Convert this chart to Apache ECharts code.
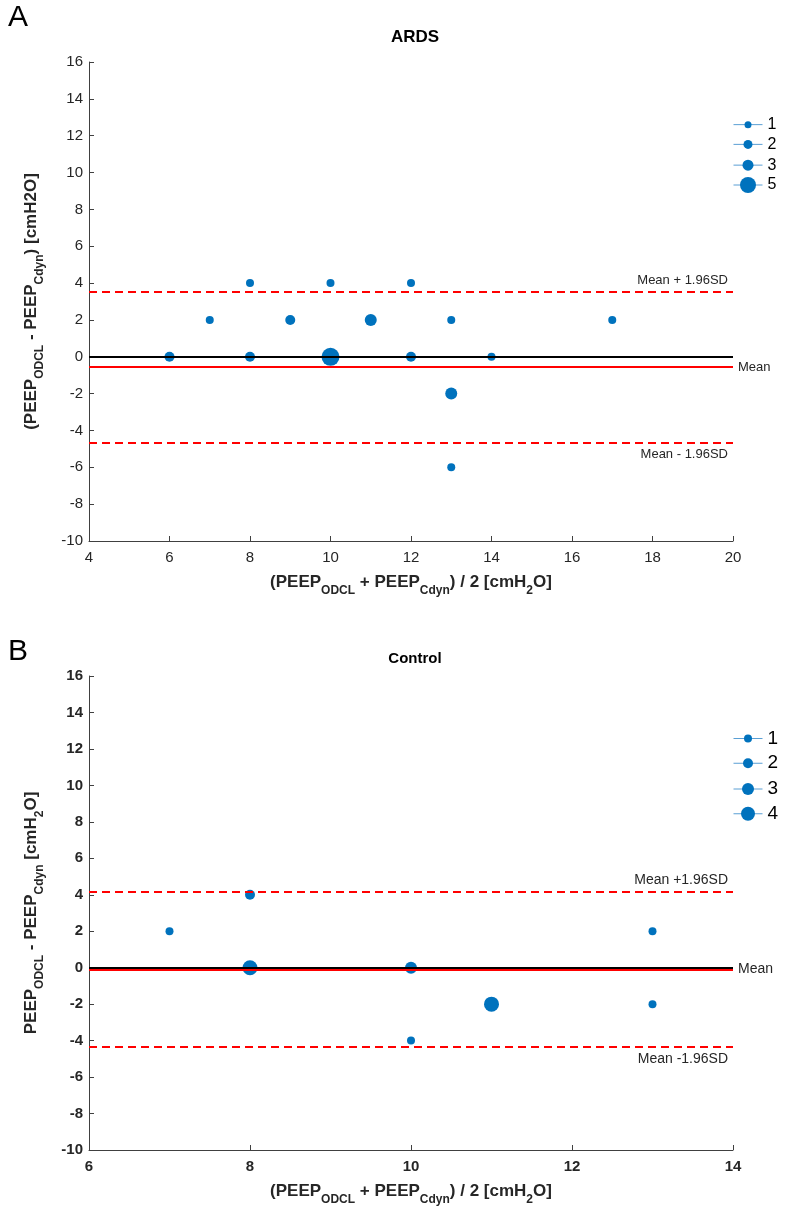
<!DOCTYPE html>
<html>
<head>
<meta charset="utf-8">
<script src="https://cdn.jsdelivr.net/npm/echarts@6/dist/echarts.min.js"></script>
<style>
  html, body { margin: 0; padding: 0; background: #fff; }
  #chart { width: 786px; height: 1215px; }
</style>
</head>
<body>
<div id="chart"></div>
<script>
// ARDS panel: x = mean of the two PEEPs, y = difference, n = number of patients
const ardsX = [8, 10, 12, 7, 9, 11, 13, 17, 6, 8, 10, 12, 14, 13, 13];
const ardsY = [4, 4, 4, 2, 2, 2, 2, 2, 0, 0, 0, 0, 0, -2, -6];
const ardsN = [1, 1, 1, 1, 2, 3, 1, 1, 2, 2, 5, 2, 1, 3, 1];
const ardsLegend = [1, 2, 3, 5];
const ardsLimits = [3.53, -0.56, -4.65]; // mean + 1.96SD, mean, mean - 1.96SD

// Control panel
const ctrlX = [7, 8, 8, 10, 10, 11, 13, 13];
const ctrlY = [2, 4, 0, 0, -4, -2, 2, -2];
const ctrlN = [1, 2, 4, 3, 1, 4, 1, 1];
const ctrlLegend = [1, 2, 3, 4];
const ctrlLimits = [4.16, -0.1, -4.36];

const BLUE = '#0072bd';
const RED = '#ff0000';
const AXIS = '#404040';
const FONT = '"Liberation Sans", Arial, sans-serif';

const chart = echarts.init(document.getElementById('chart'));

const sizesA = { 1: 8, 2: 10, 3: 12, 5: 18 };
const sizesB = { 1: 8, 2: 10, 3: 12, 4: 15 };
const legSizesA = { 1: 7, 2: 9, 3: 11, 5: 16 };
const legSizesB = { 1: 8, 2: 10, 3: 12, 4: 14 };

const richSub = (size) => ({
  s: { fontSize: size, fontWeight: 'bold', fontFamily: FONT, color: '#262626', verticalAlign: 'bottom', lineHeight: 30 }
});

function pointSeries(prefix, idx, xs, ys, ns, counts, sizes) {
  return counts.map(c => ({
    name: prefix + c,
    type: 'line',
    xAxisIndex: idx,
    yAxisIndex: idx,
    data: xs.map((x, i) => [x, ys[i], ns[i]]).filter(d => d[2] === c).map(d => [d[0], d[1]]),
    symbol: 'circle',
    symbolSize: sizes[c],
    showSymbol: true,
    lineStyle: { opacity: 0 },
    itemStyle: { color: BLUE, borderWidth: 0 },
    emphasis: { disabled: true },
    silent: true,
    z: 2
  }));
}

function limitSeries(idx, lims, labels, fontSize) {
  const dashed = { color: RED, type: [8, 5], width: 2 };
  const lab = { show: true, color: '#262626', fontSize: fontSize, fontFamily: FONT };
  return {
    type: 'line',
    xAxisIndex: idx,
    yAxisIndex: idx,
    data: [],
    z: 5,
    silent: true,
    markLine: {
      symbol: ['none', 'none'],
      silent: true,
      animation: false,
      data: [
        { yAxis: lims[0], lineStyle: dashed, label: Object.assign({ position: 'insideEndTop', formatter: labels[0] }, lab) },
        { yAxis: lims[2], lineStyle: dashed, label: Object.assign({ position: 'insideEndBottom', formatter: labels[2] }, lab) },
        { yAxis: lims[1], lineStyle: { color: RED, type: 'solid', width: 2 }, label: Object.assign({ position: 'end', formatter: labels[1] }, lab) },
        { yAxis: 0, lineStyle: { color: '#000', type: 'solid', width: 2 }, label: { show: false } }
      ]
    }
  };
}

function legends(prefix, counts, sizes, tops, fontSize) {
  return counts.map((c, i) => {
    const h = sizes[c] / 0.8;
    return {
      data: [prefix + c],
      left: 733,
      top: tops[i] - h / 2,
      padding: 0,
      itemWidth: 29,
      itemHeight: h,
      selectedMode: false,
      formatter: name => name.slice(1),
      textStyle: { fontSize: fontSize, color: '#000', fontFamily: FONT },
      lineStyle: { color: '#5a9fd4', width: 1, opacity: 1, type: 'solid' },
      itemStyle: { borderWidth: 0 }
    };
  });
}

function xAxis(idx, min, max, bold, nameText) {
  return {
    type: 'value', gridIndex: idx, min: min, max: max, interval: 2,
    axisLine: { onZero: false, lineStyle: { color: AXIS, width: 1 } },
    axisTick: { inside: true, length: 5, lineStyle: { color: AXIS } },
    splitLine: { show: false },
    axisLabel: { fontSize: 15, color: '#262626', fontFamily: FONT, fontWeight: bold ? 'bold' : 'normal', margin: 9 },
    name: nameText, nameLocation: 'middle', nameGap: 26,
    nameTextStyle: { fontSize: 17, fontWeight: 'bold', color: '#262626', fontFamily: FONT, rich: richSub(12) }
  };
}

function yAxis(idx, bold, nameText, gap) {
  return {
    type: 'value', gridIndex: idx, min: -10, max: 16, interval: 2,
    axisLine: { onZero: false, lineStyle: { color: AXIS, width: 1 } },
    axisTick: { inside: true, length: 5, lineStyle: { color: AXIS } },
    splitLine: { show: false },
    axisLabel: { fontSize: 15, color: '#262626', fontFamily: FONT, fontWeight: bold ? 'bold' : 'normal', margin: 6 },
    name: nameText, nameLocation: 'middle', nameGap: gap,
    nameTextStyle: { fontSize: 17, fontWeight: 'bold', color: '#262626', fontFamily: FONT, rich: richSub(12) }
  };
}

const option = {
  animation: false,
  backgroundColor: '#fff',
  textStyle: { fontFamily: FONT },
  title: [
    { text: 'A', left: 3, top: -2, textStyle: { fontSize: 30, fontWeight: 'normal', color: '#000', fontFamily: FONT } },
    { text: 'ARDS', left: 410, top: 24, textAlign: 'center', textStyle: { fontSize: 17, fontWeight: 'bold', color: '#000', fontFamily: FONT } },
    { text: 'B', left: 3, top: 632, textStyle: { fontSize: 30, fontWeight: 'normal', color: '#000', fontFamily: FONT } },
    { text: 'Control', left: 410, top: 646, textAlign: 'center', textStyle: { fontSize: 15, fontWeight: 'bold', color: '#000', fontFamily: FONT } }
  ],
  grid: [
    { left: 89, right: 53, top: 62, height: 479 },
    { left: 89, right: 53, top: 676, height: 474 }
  ],
  xAxis: [
    xAxis(0, 4, 20, false, '(PEEP{s|ODCL} + PEEP{s|Cdyn}) / 2 [cmH{s|2}O]'),
    xAxis(1, 6, 14, true, '(PEEP{s|ODCL} + PEEP{s|Cdyn}) / 2 [cmH{s|2}O]')
  ],
  yAxis: [
    yAxis(0, false, '(PEEP{s|ODCL} - PEEP{s|Cdyn}) [cmH2O]', 43),
    yAxis(1, true, 'PEEP{s|ODCL} - PEEP{s|Cdyn} [cmH{s|2}O]', 43)
  ],
  legend: [].concat(
    legends('A', ardsLegend, legSizesA, [121, 142, 164, 187], 16),
    legends('B', ctrlLegend, legSizesB, [734, 760, 787, 813], 19)
  ),
  series: [].concat(
    pointSeries('A', 0, ardsX, ardsY, ardsN, ardsLegend, sizesA),
    pointSeries('B', 1, ctrlX, ctrlY, ctrlN, ctrlLegend, sizesB),
    [
      limitSeries(0, ardsLimits, ['Mean + 1.96SD', 'Mean', 'Mean - 1.96SD'], 13),
      limitSeries(1, ctrlLimits, ['Mean +1.96SD', 'Mean', 'Mean -1.96SD'], 14)
    ]
  )
};

chart.setOption(option);
window.addEventListener('resize', () => chart.resize());
</script>
</body>
</html>
